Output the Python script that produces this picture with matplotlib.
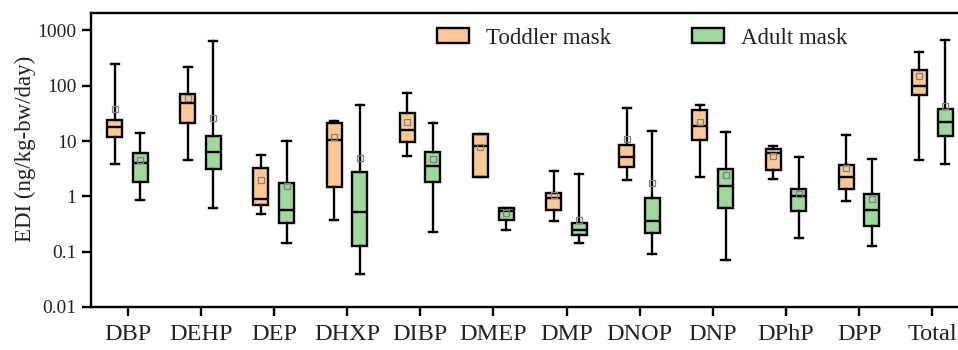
import numpy as np
import matplotlib.pyplot as plt
from matplotlib.patches import Patch

plt.rcParams['font.family'] = ['Liberation Serif', 'DejaVu Serif']

# ==================== DATA ====================
compounds = ['DBP', 'DEHP', 'DEP', 'DHXP', 'DIBP', 'DMEP', 'DMP',
             'DNOP', 'DNP', 'DPhP', 'DPP', 'Total']

# Toddler mask: whisker low, Q1, median, Q3, whisker high, mean
tod_lo   = [3.8, 4.5, 0.47, 0.38, 5.4, 2.23, 0.36, 2.0, 2.2, 2.1, 0.81, 4.5]
tod_q1   = [11.8, 21.0, 0.69, 1.45, 9.5, 2.23, 0.57, 3.4, 10.3, 3.0, 1.36, 68]
tod_med  = [17.7, 48, 0.90, 10.3, 15.6, 8.0, 0.93, 5.2, 19, 6.1, 2.27, 100]
tod_q3   = [24.3, 70, 3.25, 21.1, 32.5, 13.4, 1.16, 8.6, 37, 7.3, 3.7, 189]
tod_hi   = [250, 214, 5.6, 22.7, 73, 13.4, 2.83, 40, 44, 8.2, 12.7, 400]
tod_mean = [38.5, 61, 1.97, 11.6, 22, 7.9, 1.07, 10.9, 22, 5.35, 3.2, 147]

# Adult mask
adu_lo   = [0.87, 0.61, 0.146, 0.039, 0.226, 0.246, 0.143, 0.091, 0.071, 0.177, 0.126, 3.8]
adu_q1   = [1.79, 3.08, 0.334, 0.125, 1.79, 0.378, 0.20, 0.214, 0.62, 0.54, 0.29, 12.5]
adu_med  = [4.0, 6.4, 0.574, 0.514, 3.48, 0.543, 0.243, 0.363, 1.56, 1.0, 0.574, 21.7]
adu_q3   = [6.0, 12.1, 1.74, 2.75, 6.3, 0.61, 0.33, 0.92, 3.08, 1.34, 1.12, 37.8]
adu_hi   = [13.7, 640, 9.9, 44.7, 20.8, 0.624, 2.5, 15.2, 14.8, 5.07, 4.67, 660]
adu_mean = [4.5, 26.4, 1.56, 4.9, 4.66, 0.50, 0.368, 1.72, 2.43, 1.12, 0.895, 43.6]

ytick_vals = [0.01, 0.1, 1, 10, 100, 1000]
ytick_labels = ['0.01', '0.1', '1', '10', '100', '1000']

tod_color = '#FCC994'
adu_color = '#9ED89B'


def make_stats(lo, q1, med, q3, hi, mean):
    return [dict(whislo=a, q1=b, med=c, q3=d, whishi=e, mean=f, fliers=[])
            for a, b, c, d, e, f in zip(lo, q1, med, q3, hi, mean)]


# ==================== FIGURE ====================
fig = plt.figure(figsize=(9.58, 3.5), dpi=100)
ax = fig.add_axes([0.095, 0.123, 0.9165, 0.841])

x = np.arange(len(compounds))
common = dict(
    widths=0.205, capwidths=0.11, patch_artist=True, showmeans=True,
    boxprops=dict(edgecolor='black', linewidth=1.7),
    medianprops=dict(color='black', linewidth=1.7),
    whiskerprops=dict(color='black', linewidth=1.7),
    capprops=dict(color='black', linewidth=1.7),
    meanprops=dict(marker='s', markersize=4.5, markerfacecolor='none',
                   markeredgecolor='#808080', markeredgewidth=0.9),
)

b1 = ax.bxp(make_stats(tod_lo, tod_q1, tod_med, tod_q3, tod_hi, tod_mean),
            positions=x - 0.178, **common)
b2 = ax.bxp(make_stats(adu_lo, adu_q1, adu_med, adu_q3, adu_hi, adu_mean),
            positions=x + 0.172, **common)
for p in b1['boxes']:
    p.set_facecolor(tod_color)
for p in b2['boxes']:
    p.set_facecolor(adu_color)

ax.set_yscale('log')
ax.set_ylim(0.01, 2100)
ax.set_xlim(-0.5, len(compounds) - 0.5)
ax.set_yticks(ytick_vals)
ax.set_yticklabels(ytick_labels)
ax.yaxis.set_minor_locator(plt.NullLocator())
ax.set_xticks(x)
ax.set_xticklabels(compounds)

ax.tick_params(axis='x', labelsize=17.5, length=6.5, width=1.7, pad=6, colors='black',
               labelcolor='#222222')
ax.tick_params(axis='y', labelsize=14, length=6.5, width=1.7, pad=4, colors='black',
               labelcolor='#222222')
for s in ['left', 'bottom', 'top']:
    ax.spines[s].set_linewidth(1.7)
ax.spines['right'].set_visible(False)

ax.set_ylabel('EDI (ng/kg-bw/day)', fontsize=16.5, color='#222222')
ax.yaxis.set_label_coords(-0.063, 0.537)

handles = [Patch(facecolor=tod_color, edgecolor='black', linewidth=1.7, label='Toddler mask'),
           Patch(facecolor=adu_color, edgecolor='black', linewidth=1.7, label='Adult mask')]
leg = ax.legend(handles=handles, ncol=2, loc='center left', bbox_to_anchor=(0.394, 0.913),
                frameon=False, fontsize=16.5, borderpad=0, borderaxespad=0,
                handlelength=1.4, handleheight=0.66, handletextpad=0.75,
                columnspacing=3.5)
for t in leg.get_texts():
    t.set_color('#222222')

plt.savefig('out.png', dpi=100)
